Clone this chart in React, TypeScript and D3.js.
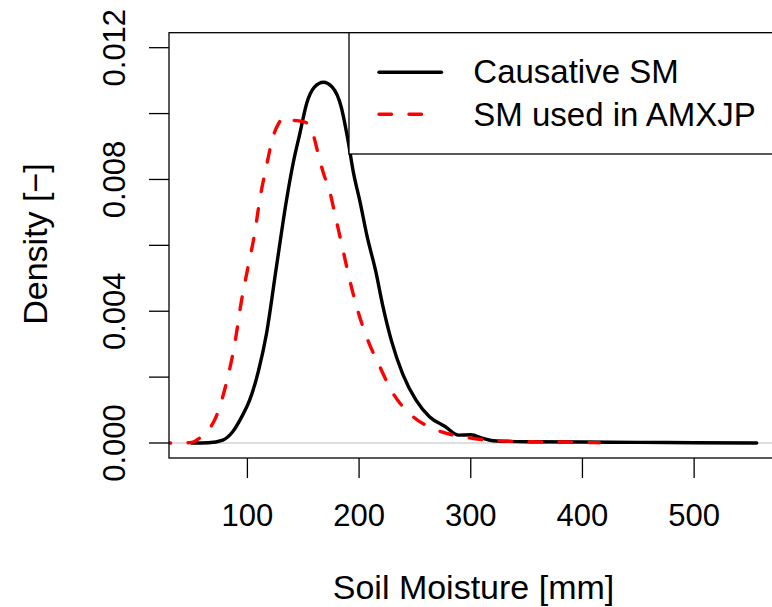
import React from "react";
import * as d3 from "d3";

// Causative SM density (black solid)
const smBlack = [50, 65, 78, 87, 95, 102, 110, 117, 126, 135, 141, 147, 153, 160, 168, 176, 184, 190, 195, 201, 207, 215, 221, 229, 239, 251, 263, 277, 289, 300, 311, 320, 350, 400, 450, 500, 556];
const denBlack = [0, 0.00001, 0.00009, 0.00035, 0.0008, 0.0013, 0.0022, 0.0033, 0.00535, 0.00737, 0.0085, 0.0094, 0.0103, 0.0108, 0.01095, 0.0108, 0.0102, 0.0092, 0.0082, 0.0073, 0.0063, 0.0052, 0.0042, 0.0031, 0.0021, 0.0013, 0.0008, 0.0005, 0.00024, 0.00025, 0.00014, 0.00007, 0.00004, 0.00003, 0.00002, 0.00001, 0];

// SM used in AMXJP density (red dashed)
const smRed = [20, 40, 50, 60, 72, 81, 88.6, 94.6, 100.6, 106.5, 111, 117, 123, 128, 133, 140, 148, 154, 158.5, 164.7, 168, 174, 178, 185.6, 191.6, 199, 206.6, 218.5, 230.4, 248.3, 269, 296, 323, 353, 385, 415];
const denRed = [0, 0, 0.00002, 0.00024, 0.0008, 0.0018, 0.003, 0.0043, 0.00535, 0.00636, 0.00737, 0.0084, 0.0093, 0.0097, 0.0099, 0.0098, 0.00977, 0.0097, 0.0094, 0.0086, 0.0082, 0.0076, 0.007, 0.00586, 0.00495, 0.004, 0.00323, 0.00232, 0.00151, 0.0008, 0.0004, 0.00017, 0.00007, 0.00004, 0.00003, 0.00001];

const xTicks = [100, 200, 300, 400, 500];
const yTicks = [0, 0.002, 0.004, 0.006, 0.008, 0.01, 0.012];
const yLabelTicks = [0, 0.004, 0.008, 0.012];
const legendLabels = ["Causative SM", "SM used in AMXJP"];
const xTitle = "Soil Moisture [mm]";
const yTitle = "Density [\u2212]";

const W = 772;
const H = 607;
const left = 169;
const right = 779;
const top = 32.7;
const bottom = 458;
const font = "'Liberation Sans', Arial, Helvetica, sans-serif";

export default function App() {
  const x = d3.scaleLinear().domain([29.8, 576]).range([left, right]);
  const y = d3.scaleLinear().domain([-0.000455, 0.012455]).range([bottom, top]);

  const line = d3
    .line<[number, number]>()
    .x((d) => x(d[0]))
    .y((d) => y(d[1]))
    .curve(d3.curveMonotoneX);

  const blackPath = line(smBlack.map((v, i) => [v, denBlack[i]] as [number, number])) || "";
  const redPath = line(smRed.map((v, i) => [v, denRed[i]] as [number, number])) || "";

  return (
    <svg
      width={W}
      height={H}
      viewBox={`0 0 ${W} ${H}`}
      style={{ position: "absolute", left: 0, top: 0, display: "block", background: "#fff" }}
    >
      <defs>
        <clipPath id="plotClip">
          <rect x={left} y={top} width={right - left} height={bottom - top} />
        </clipPath>
      </defs>
      <rect x={0} y={0} width={W} height={H} fill="#fff" />

      {/* zero line */}
      <line x1={left} x2={right} y1={y(0)} y2={y(0)} stroke="#bebebe" strokeWidth={1.2} />

      <g clipPath="url(#plotClip)">
        <path d={blackPath} fill="none" stroke="#000" strokeWidth={3.4} strokeLinejoin="round" strokeLinecap="round" />
        <path
          d={redPath}
          fill="none"
          stroke="#ff0000"
          strokeWidth={3.4}
          strokeDasharray="12.5 17.5"
          strokeLinecap="round"
        />
      </g>

      {/* box */}
      <rect x={left} y={top} width={right - left} height={bottom - top} fill="none" stroke="#000" strokeWidth={1.3} />

      {/* x axis ticks */}
      {xTicks.map((t) => (
        <g key={"x" + t}>
          <line x1={x(t)} x2={x(t)} y1={bottom} y2={bottom + 20} stroke="#000" strokeWidth={1.3} />
          <text x={x(t)} y={526} textAnchor="middle" fontFamily={font} fontSize={31} fill="#000">
            {t}
          </text>
        </g>
      ))}

      {/* y axis ticks */}
      {yTicks.map((t) => (
        <line key={"y" + t} x1={left - 20} x2={left} y1={y(t)} y2={y(t)} stroke="#000" strokeWidth={1.3} />
      ))}
      {yLabelTicks.map((t) => (
        <text
          key={"yl" + t}
          transform={`translate(125,${y(t)}) rotate(-90)`}
          textAnchor="middle"
          fontFamily={font}
          fontSize={31}
          fill="#000"
        >
          {d3.format(".3f")(t)}
        </text>
      ))}

      {/* axis titles */}
      <text x={473.5} y={599} textAnchor="middle" fontFamily={font} fontSize={34} fill="#000">
        {xTitle}
      </text>
      <text transform="translate(47,244) rotate(-90)" textAnchor="middle" fontFamily={font} fontSize={34} fill="#000">
        {yTitle}
      </text>

      {/* legend */}
      <rect x={349} y={top} width={right - 349} height={154 - top} fill="#fff" stroke="#000" strokeWidth={1.3} />
      <line x1={379} x2={441.5} y1={72.3} y2={72.3} stroke="#000" strokeWidth={3.4} strokeLinecap="round" />
      <line x1={379} x2={424} y1={114.3} y2={114.3} stroke="#ff0000" strokeWidth={3.4} strokeDasharray="12.5 17.5" strokeLinecap="round" />
      <text x={473.3} y={83.3} fontFamily={font} fontSize={33} fill="#000">
        {legendLabels[0]}
      </text>
      <text x={473.3} y={126} fontFamily={font} fontSize={33} fill="#000">
        {legendLabels[1]}
      </text>
    </svg>
  );
}
